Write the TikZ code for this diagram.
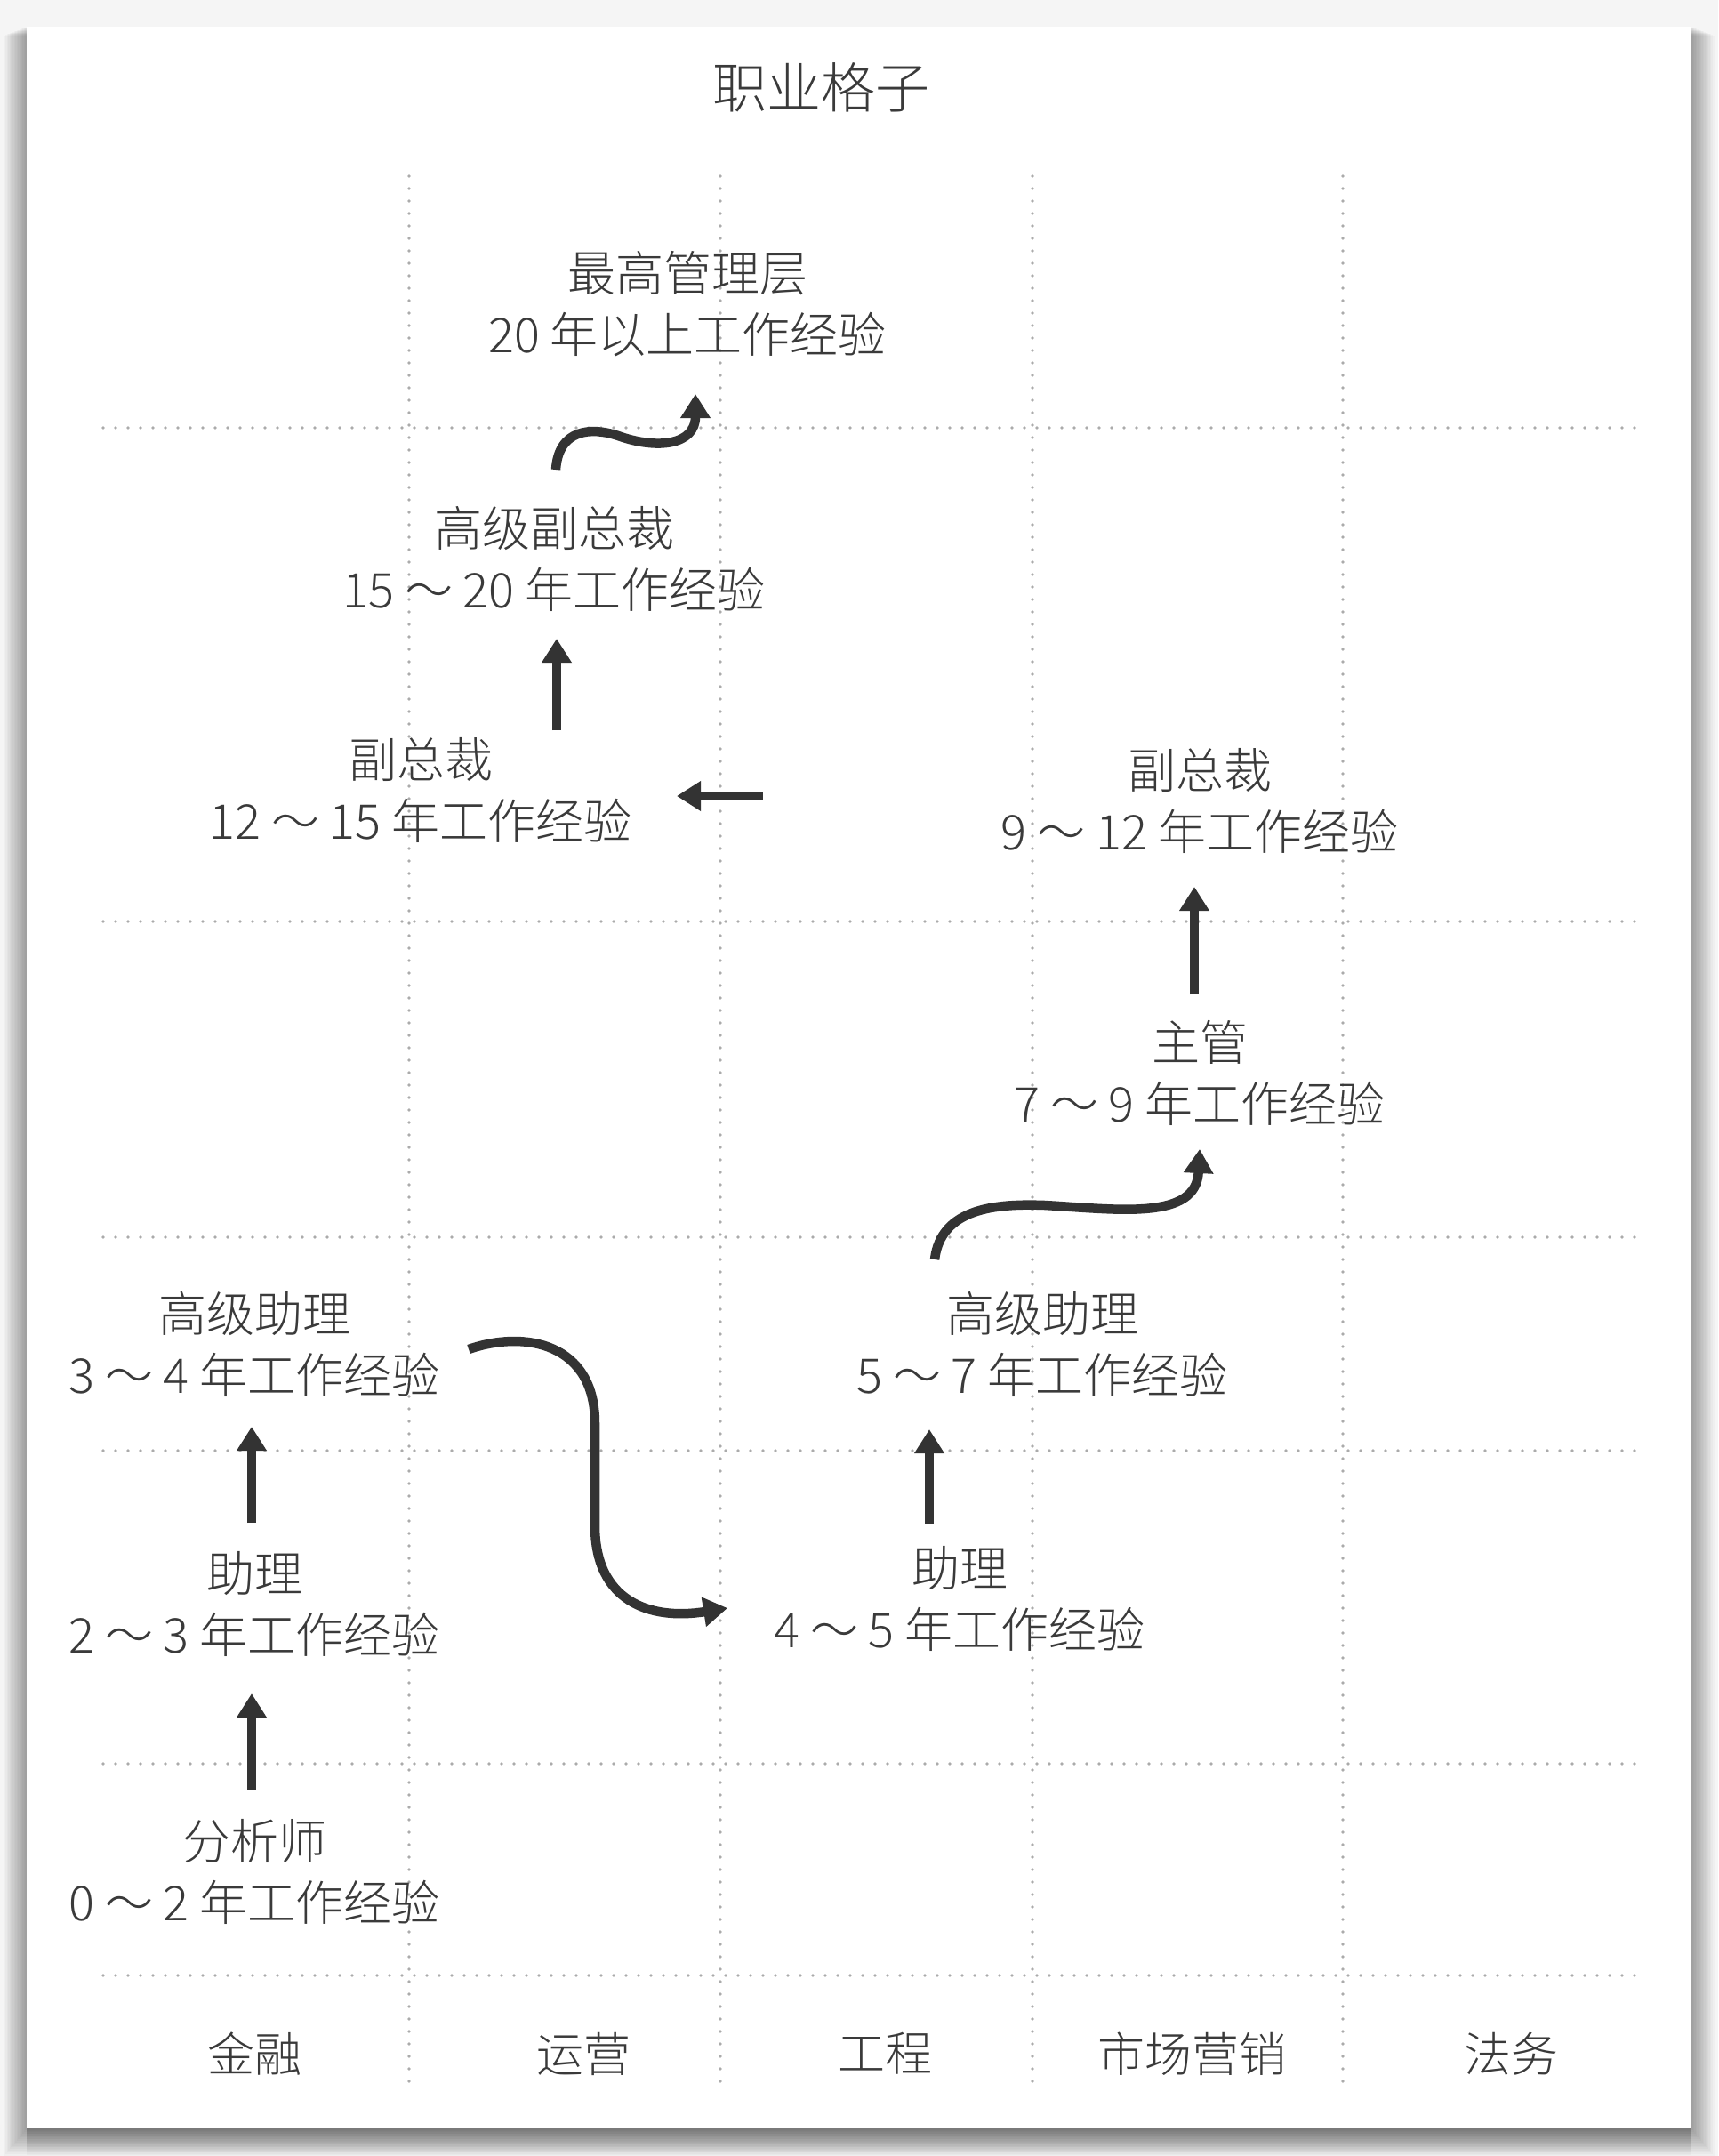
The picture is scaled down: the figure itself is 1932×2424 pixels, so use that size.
\documentclass[tikz,border=0pt]{standalone}
\usepackage{fontspec}
\IfFontExistsTF{Noto Sans CJK SC Light}{\newfontfamily\cjk{Noto Sans CJK SC Light}}{\newfontfamily\cjk{Noto Sans CJK SC}}
\usetikzlibrary{arrows.meta,calc}
\definecolor{ink}{HTML}{3A3A3A}
\definecolor{arrowc}{HTML}{333333}
\definecolor{gridc}{HTML}{ABABAB}
\definecolor{bgc}{HTML}{F5F5F5}
\begin{document}
\begin{tikzpicture}[x=1pt,y=-1pt,
  role/.style={font=\cjk\fontsize{54}{69}\selectfont, text=ink, align=center, inner sep=0pt},
  colhead/.style={font=\cjk\fontsize{53}{60}\selectfont, text=ink, inner sep=0pt},
  titlestyle/.style={font=\cjk\fontsize{61}{70}\selectfont, text=ink, inner sep=0pt},
  arr/.style={draw=arrowc, line width=10.5pt, -{Triangle[length=27pt,width=32pt]}},
  gridline/.style={draw=gridc, line width=3.8pt, line cap=round, dash pattern=on 0pt off 14pt}]
\useasboundingbox (0,0) rectangle (1932,2424);
% background and card with shadow
\fill[bgc] (0,0) rectangle (1932,2424);
\foreach \i in {1,...,16} {
  \fill[black,opacity=0.022] (30-1.6*\i,30+0.6*\i) rectangle (1902+1.6*\i,2393+1.95*\i);
}
\foreach \i in {1,...,10} {
  \fill[black,opacity=0.024] (30,2393) rectangle (1902,2393+3*\i);
}
\fill[white] (30,30) rectangle (1902,2393);
% grid
\foreach \x in {460,810,1161,1510} { \draw[gridline] (\x,198) -- (\x,2342); }
\foreach \y in {481,1036,1391,1631,1983,2221} { \draw[gridline] (116,\y) -- (1844,\y); }
% title
\node[titlestyle] (title) at (923,98) {职业格子};
% roles
\node[role] (top) at (773,342) {最高管理层\\20 年以上工作经验};
\node[role] (svp) at (623,628) {高级副总裁\\15 ～ 20 年工作经验};
\node[role] (vpf) at (473,888) {副总裁\\12 ～ 15 年工作经验};
\node[role] (vpm) at (1349,900) {副总裁\\9 ～ 12 年工作经验};
\node[role] (mgr) at (1349,1206) {主管\\7 ～ 9 年工作经验};
\node[role] (saE) at (1172,1511) {高级助理\\5 ～ 7 年工作经验};
\node[role] (aE) at (1079,1797) {助理\\4 ～ 5 年工作经验};
\node[role] (saF) at (286,1511) {高级助理\\3 ～ 4 年工作经验};
\node[role] (aF) at (286,1803) {助理\\2 ～ 3 年工作经验};
\node[role] (an) at (286,2104) {分析师\\0 ～ 2 年工作经验};
% column heads
\node[colhead] (c1) at (286,2309) {金融};
\node[colhead] (c2) at (656,2309) {运营};
\node[colhead] (c3) at (995,2309) {工程};
\node[colhead] (c4) at (1340,2309) {市场营销};
\node[colhead] (c5) at (1699,2309) {法务};
% arrows
\draw[arr] ($(an)+(-3,-92)$) -- ($(aF)+(-3,101)$);
\draw[arr] ($(aF)+(-3,-91)$) -- ($(saF)+(-3,93)$);
\draw[arr] ($(saF)+(241,6)$) .. controls (590,1495) and (669,1510) .. (669,1600) -- (669,1715) .. controls (669,1800) and (730,1822) .. ($(aE)+(-261,11)$);
\draw[arr] ($(aE)+(-34,-84)$) -- ($(saE)+(-127,96)$);
\draw[arr] ($(saE)+(-121,-95)$) .. controls (1058,1358) and (1120,1353) .. (1175,1355) .. controls (1260,1360) and (1345,1372) .. ($(mgr)+(0,86)$);
\draw[arr] ($(mgr)+(-6,-88)$) -- ($(vpm)+(-6,97)$);
\draw[arr] ($(vpm)+(-491,-5)$) -- ($(vpf)+(288,7)$);
\draw[arr] ($(vpf)+(153,-67)$) -- ($(svp)+(3,90)$);
\draw[arr] ($(svp)+(2,-100)$) .. controls (628,482) and (665,480) .. (695,490) .. controls (740,506) and (782,500) .. ($(top)+(9,101)$);
\end{tikzpicture}
\end{document}
